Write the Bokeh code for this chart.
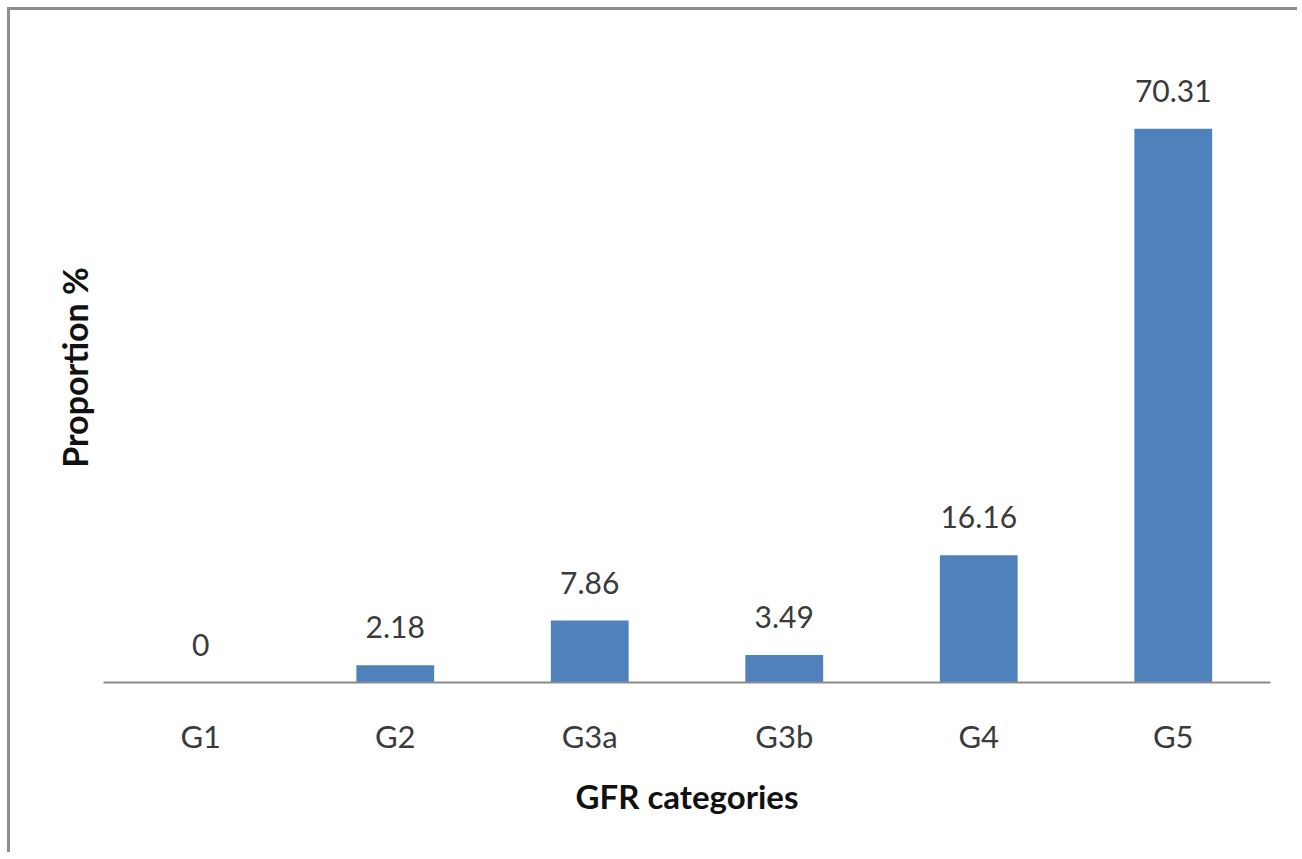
from bokeh.plotting import figure
from bokeh.models import ColumnDataSource, FactorRange, Range1d, LabelSet
from bokeh.core.properties import value
from bokeh.embed import file_html
from bokeh.resources import INLINE

categories = ["G1", "G2", "G3a", "G3b", "G4", "G5"]
proportions = [0, 2.18, 7.86, 3.49, 16.16, 70.31]
labels = ["0", "2.18", "7.86", "3.49", "16.16", "70.31"]

FONT = "Lato"
TEXT = "#3a3a3a"

src = ColumnDataSource(dict(cat=categories, val=proportions, lab=labels))

p = figure(
    x_range=FactorRange(*categories, range_padding=0),
    y_range=Range1d(0, 80),
    width=1290, height=845,
    output_backend="svg", toolbar_location=None,
    min_border_left=93, min_border_right=30,
    min_border_top=42, min_border_bottom=173,
)
p.styles = {"border-left": "3px solid #8e8e8e", "border-top": "3px solid #8e8e8e",
            "margin-left": "7px", "margin-top": "7px"}
p.outline_line_color = None
p.grid.visible = False
p.background_fill_color = "white"
p.border_fill_color = "white"

p.vbar(x="cat", top="val", width=0.4, source=src, fill_color="#4F81BD", line_color=None)

p.add_layout(LabelSet(x="cat", y="val", text="lab", source=src,
                      text_align="center", text_baseline="alphabetic", y_offset=27,
                      text_font=value(FONT), text_font_size="30px", text_color=TEXT))

xa = p.xaxis[0]
xa.axis_line_color = "#8a8a8a"
xa.axis_line_width = 2
xa.major_tick_line_color = None
xa.minor_tick_line_color = None
xa.major_label_text_font = FONT
xa.major_label_text_font_size = "31px"
xa.major_label_text_color = TEXT
xa.major_label_standoff = 28
xa.axis_label = "GFR categories"
xa.axis_label_text_font = FONT
xa.axis_label_text_font_size = "33px"
xa.axis_label_text_font_style = "bold"
xa.axis_label_text_color = "#111111"
xa.axis_label_standoff = 18

ya = p.yaxis[0]
ya.ticker = []
ya.axis_line_color = None
ya.major_tick_line_color = None
ya.minor_tick_line_color = None
ya.axis_label = "Proportion %"
ya.axis_label_text_font = FONT
ya.axis_label_text_font_size = "34px"
ya.axis_label_text_font_style = "bold"
ya.axis_label_text_color = "#111111"
ya.axis_label_standoff = 9

open("out.html", "w").write(file_html(p, INLINE))
